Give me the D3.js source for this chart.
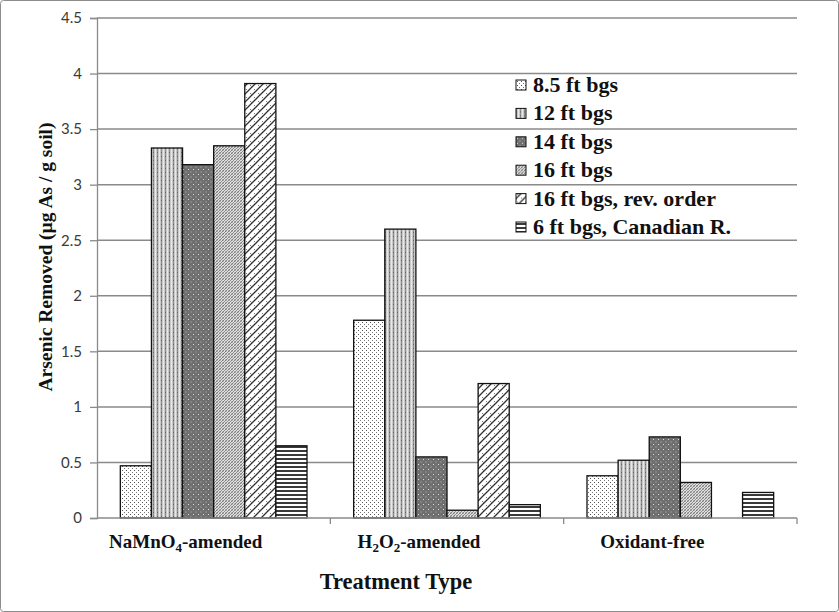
<!DOCTYPE html>
<html><head><meta charset="utf-8">
<script src="https://cdn.jsdelivr.net/npm/d3@7"></script>
<style>body{margin:0;background:#fff}svg{display:block}</style>
</head><body><svg id="c" width="839" height="612"></svg>
<script>
const categories = ["NaMnO4-amended", "H2O2-amended", "Oxidant-free"];
const seriesNames = ["8.5 ft bgs", "12 ft bgs", "14 ft bgs", "16 ft bgs", "16 ft bgs, rev. order", "6 ft bgs, Canadian R."];
const s85  = [0.47, 1.78, 0.38];
const s12  = [3.33, 2.60, 0.52];
const s14  = [3.18, 0.55, 0.73];
const s16  = [3.35, 0.07, 0.32];
const s16r = [3.91, 1.21, null];
const s6c  = [0.65, 0.12, 0.23];
const seriesValues = [s85, s12, s14, s16, s16r, s6c];
const yTicks = [0, 0.5, 1, 1.5, 2, 2.5, 3, 3.5, 4, 4.5];

const svg = d3.select("#c");
const W = 839, H = 612;
const m = {l: 97, r: 42, t: 18, b: 94};
const pw = W - m.l - m.r, ph = H - m.t - m.b;

// border
svg.append("rect").attr("x",0.5).attr("y",0.5).attr("width",W-1).attr("height",H-1)
  .attr("fill","#fff").attr("stroke","#8c8c8c").attr("stroke-width",1).attr("rx",3);

// patterns
const defs = svg.append("defs");
function pat(id, w, h, bg, build){
  const p = defs.append("pattern").attr("id",id).attr("patternUnits","userSpaceOnUse")
    .attr("width",w).attr("height",h);
  p.append("rect").attr("width",w).attr("height",h).attr("fill",bg);
  build(p);
}
pat("p0",4,4,"#fff",p=>{
  p.append("rect").attr("x",1).attr("y",0).attr("width",1).attr("height",1).attr("fill","#555");
  p.append("rect").attr("x",3).attr("y",2).attr("width",1).attr("height",1).attr("fill","#777");
});
pat("p1",4,4,"#c8c8c8",p=>{
  p.append("rect").attr("x",0).attr("y",0).attr("width",1).attr("height",4).attr("fill","#909090");
  p.append("rect").attr("x",2).attr("y",0).attr("width",1).attr("height",4).attr("fill","#e8e8e8");
  p.append("rect").attr("x",0).attr("y",2).attr("width",1).attr("height",1).attr("fill","#666");
});
pat("p2",5,5,"#6f6f6f",p=>{
  p.append("rect").attr("x",1).attr("y",1).attr("width",1).attr("height",1).attr("fill","#ddd");
  p.append("rect").attr("x",3.5).attr("y",3.5).attr("width",1).attr("height",1).attr("fill","#bbb");
});
pat("p3",3,3,"#e0e0e0",p=>{
  p.append("path").attr("d","M0,3L3,0M-1,1L1,-1M2,4L4,2").attr("stroke","#666").attr("stroke-width",0.8);
  p.append("path").attr("d","M0,0L3,3").attr("stroke","#999").attr("stroke-width",0.6);
});
pat("p4",8,8,"#fff",p=>{
  p.append("path").attr("d","M0,8L8,0M-2,2L2,-2M6,10L10,6").attr("stroke","#333").attr("stroke-width",1.3);
  p.append("path").attr("d","M1,3L3,5M5,7L7,9").attr("stroke","#777").attr("stroke-width",1);
});
pat("p5",4,4,"#fff",p=>{
  p.append("rect").attr("x",0).attr("y",0).attr("width",4).attr("height",2).attr("fill","#3a3a3a");
});
const fills = ["url(#p0)","url(#p1)","url(#p2)","url(#p3)","url(#p4)","url(#p5)"];

const g = svg.append("g").attr("transform",`translate(${m.l},${m.t})`);
const y = d3.scaleLinear().domain([0,4.5]).range([ph,0]);
const x0 = d3.scaleBand().domain(categories).range([0,pw]).padding(0);
const x1 = d3.scaleBand().domain(seriesNames).range([0,x0.bandwidth()]).paddingInner(0).paddingOuter(0.75);

// gridlines
g.append("g").selectAll("line").data(yTicks.filter(d=>d>0)).join("line")
  .attr("x1",0).attr("x2",pw).attr("y1",d=>y(d)).attr("y2",d=>y(d))
  .attr("stroke","#8a8a8a").attr("stroke-width",1.5);

// y axis
const ya = g.append("g").call(d3.axisLeft(y).tickValues(yTicks).tickFormat(d=>String(d)).tickSize(7).tickPadding(8));
ya.select(".domain").attr("stroke","#8a8a8a").attr("stroke-width",1.3);
ya.selectAll(".tick line").attr("stroke","#8a8a8a").attr("stroke-width",1.3);
ya.selectAll("text").attr("font-family","Lato, 'Open Sans', sans-serif").attr("font-size",15).attr("fill","#3a3a3a");

// bars
const rows = [];
categories.forEach((c,ci)=>seriesNames.forEach((s,si)=>{
  const v = seriesValues[si][ci];
  if (v != null) rows.push({c, s, si, v});
}));
g.append("g").selectAll("rect").data(rows).join("rect")
  .attr("x",d=>x0(d.c)+x1(d.s)).attr("width",x1.bandwidth())
  .attr("y",d=>y(d.v)).attr("height",d=>y(0)-y(d.v))
  .attr("fill",d=>fills[d.si]).attr("stroke","#111").attr("stroke-width",1.3);

// x axis
const xa = g.append("g").attr("transform",`translate(0,${ph})`);
xa.append("line").attr("x1",0).attr("x2",pw).attr("stroke","#8a8a8a").attr("stroke-width",1.5);
xa.selectAll(".tk").data(categories).join("line").attr("class","tk")
  .attr("x1",d=>x0(d)+x0.bandwidth()).attr("x2",d=>x0(d)+x0.bandwidth())
  .attr("y1",0).attr("y2",6).attr("stroke","#8a8a8a").attr("stroke-width",1.3);

// category labels with subscripts
const serif = "'Liberation Serif', 'Times New Roman', serif";
const labelParts = {
  "NaMnO4-amended": [["NaMnO",false],["4",true],["-amended",false]],
  "H2O2-amended": [["H",false],["2",true],["O",false],["2",true],["-amended",false]],
  "Oxidant-free": [["Oxidant-free",false]]
};
categories.forEach(c=>{
  const t = g.append("text").attr("x",x0(c)+x0.bandwidth()/2-28).attr("y",ph+30)
    .attr("text-anchor","middle").attr("font-family",serif).attr("font-weight","bold")
    .attr("font-size",19).attr("fill","#111");
  labelParts[c].forEach(([s,sub],i)=>{
    const ts = t.append("tspan").text(s);
    const prevSub = i>0 && labelParts[c][i-1][1];
    if (sub) ts.attr("font-size",13).attr("dy",4);
    else if (prevSub) ts.attr("dy",-4);
  });
});

// axis titles
svg.append("text").attr("x",396).attr("y",589).attr("text-anchor","middle")
  .attr("font-family",serif).attr("font-weight","bold").attr("font-size",22.5).attr("fill","#111")
  .text("Treatment Type");
svg.append("text").attr("transform","translate(52,257) rotate(-90)").attr("text-anchor","middle")
  .attr("font-family",serif).attr("font-weight","bold").attr("font-size",19.5).attr("fill","#111")
  .text("Arsenic Removed (µg As / g soil)");

// legend
const lg = svg.append("g").attr("transform","translate(516,85)");
const li = lg.selectAll("g").data(seriesNames).join("g").attr("transform",(d,i)=>`translate(0,${i*28.4})`);
li.append("rect").attr("x",0).attr("y",-5).attr("width",10).attr("height",10)
  .attr("fill",(d,i)=>fills[i]).attr("stroke","#111").attr("stroke-width",1);
li.append("text").attr("x",17).attr("y",7).attr("font-family",serif).attr("font-weight","bold")
  .attr("font-size",22).attr("fill","#111").text(d=>d);
</script></body></html>
